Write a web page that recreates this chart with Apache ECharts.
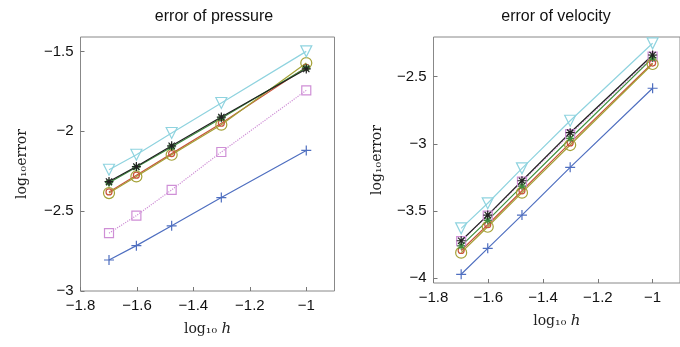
<!DOCTYPE html>
<html><head><meta charset="utf-8">
<script src="https://cdn.jsdelivr.net/npm/echarts@6/dist/echarts.min.js"></script>
<style>html,body{margin:0;padding:0;background:#fff}#c{width:680px;height:347px}</style>
</head><body><div id="c"></div>
<script>
// log10 h values (h = 1/50, 1/40, 1/30, 1/20, 1/10)
const logH = [-1.699, -1.602, -1.477, -1.301, -1.0];
const xTicks = [-1.8, -1.6, -1.4, -1.2, -1];
const yTicksP = [-3, -2.5, -2, -1.5];
const yTicksV = [-4, -3.5, -3, -2.5];

// error of pressure (log10)
const pBlue    = [-2.806, -2.716, -2.592, -2.415, -2.120];
const pMagenta = [-2.638, -2.528, -2.367, -2.130, -1.744];
const pOlive   = [-2.387, -2.283, -2.147, -1.959, -1.573];
const pRed     = [-2.380, -2.275, -2.140, -1.950, -1.600];
const pGreen   = [-2.322, -2.225, -2.098, -1.918, -1.602];
const pCyan    = [-2.241, -2.147, -2.011, -1.823, -1.500];
const pBlack   = [-2.315, -2.221, -2.091, -1.911, -1.610];

// error of velocity (log10)
const vBlue    = [-3.972, -3.779, -3.531, -3.175, -2.586];
const vMagenta = [-3.725, -3.535, -3.282, -2.928, -2.350];
const vOlive   = [-3.811, -3.618, -3.364, -3.009, -2.405];
const vRed     = [-3.795, -3.603, -3.350, -2.993, -2.398];
const vGreen   = [-3.760, -3.570, -3.315, -2.960, -2.360];
const vCyan    = [-3.630, -3.443, -3.183, -2.828, -2.251];
const vBlack   = [-3.722, -3.531, -3.275, -2.917, -2.338];

const PLUS = 'path://M5,0L5,10M0,5L10,5';
const STAR = 'path://M5,0L5,10M0,5L10,5M1.5,1.5L8.5,8.5M1.5,8.5L8.5,1.5';
const TRI  = 'path://M0,0L10,0L5,8.66Z';

const styles = [
  {name:'blue',    color:'#4f6fc0', symbol:PLUS,     size:10, type:'solid'},
  {name:'magenta', color:'#cf8fd6', symbol:'rect',   size:9,  type:'dotted'},
  {name:'red',     color:'#c8553d', symbol:'circle', size:6,  type:'solid'},
  {name:'olive',   color:'#a4a136', symbol:'circle', size:11, type:'solid'},
  {name:'green',   color:'#3e8f3e', symbol:STAR,     size:8,  type:'solid'},
  {name:'cyan',    color:'#8fd3df', symbol:TRI,      size:11, type:'solid'},
  {name:'black',   color:'#222222', symbol:STAR,     size:9,  type:'solid'}
];
const pData = [pBlue, pMagenta, pRed, pOlive, pGreen, pCyan, pBlack];
const vData = [vBlue, vMagenta, vRed, vOlive, vGreen, vCyan, vBlack];

function mk(vals, st, idx) {
  return {
    type:'line', xAxisIndex:idx, yAxisIndex:idx, name:st.name,
    data: logH.map((x,i)=>[x, vals[i]]),
    symbol: st.symbol, symbolSize: st.size, showSymbol:true,
    lineStyle:{color:st.color, width:1.2, type:st.type},
    itemStyle:{color:'rgba(0,0,0,0)', borderColor:st.color, borderWidth:1.2},
    emphasis:{disabled:true}, animation:false
  };
}
const series = [];
styles.forEach((st,i)=>{ series.push(mk(pData[i], st, 0)); series.push(mk(vData[i], st, 1)); });

const fmt = v => String(v).replace('-', '\u2212');
const lblFont = {fontFamily:'Liberation Sans, Arial, sans-serif', fontSize:15, color:'#111'};
function xAx(idx) {
  return {
    type:'value', gridIndex:idx, min:-1.8, max:-0.9,
    axisLine:{show:false}, splitLine:{show:false},
    axisTick:{inside:true, length:4, lineStyle:{color:'#777'}, customValues:xTicks},
    axisLabel:Object.assign({customValues:xTicks, formatter:fmt, margin:7}, lblFont),
    name:'{n|log\u2081\u2080 }{i|h}', nameLocation:'middle', nameGap:31,
    nameTextStyle:{rich:{n:{fontFamily:'DejaVu Serif, serif', fontSize:14, color:'#222'},
                         i:{fontFamily:'DejaVu Serif, serif', fontStyle:'italic', fontSize:15, color:'#222'}}}
  };
}
function yAx(idx, mn, mx, ticks, gap) {
  return {
    type:'value', gridIndex:idx, min:mn, max:mx,
    axisLine:{show:false}, splitLine:{show:false},
    axisTick:{inside:true, length:4, lineStyle:{color:'#777'}, customValues:ticks},
    axisLabel:Object.assign({customValues:ticks, formatter:fmt, margin:7}, lblFont),
    name:'log\u2081\u2080error', nameLocation:'middle', nameGap:gap, nameRotate:90,
    nameTextStyle:{fontFamily:'DejaVu Serif, serif', fontSize:14, color:'#222'}
  };
}

const chart = echarts.init(document.getElementById('c'), null, {renderer:'canvas'});
chart.setOption({
  animation:false,
  title:[
    {text:'error of pressure', left:209, top:4, textAlign:'center',
     textStyle:{fontFamily:'Liberation Sans, Arial, sans-serif', fontSize:16, fontWeight:'normal', color:'#111'}},
    {text:'error of velocity', left:551, top:4, textAlign:'center',
     textStyle:{fontFamily:'Liberation Sans, Arial, sans-serif', fontSize:16, fontWeight:'normal', color:'#111'}}
  ],
  grid:[
    {left:80.5, top:37, width:254, height:254, show:true, borderColor:'#888', borderWidth:1},
    {left:433.5, top:37, width:254, height:246, show:true, borderColor:'#888', borderWidth:1}
  ],
  xAxis:[xAx(0), xAx(1)],
  yAxis:[yAx(0, -3, -1.41, yTicksP, 51), yAx(1, -4.037, -2.204, yTicksV, 49)],
  series: series
});
</script></body></html>
